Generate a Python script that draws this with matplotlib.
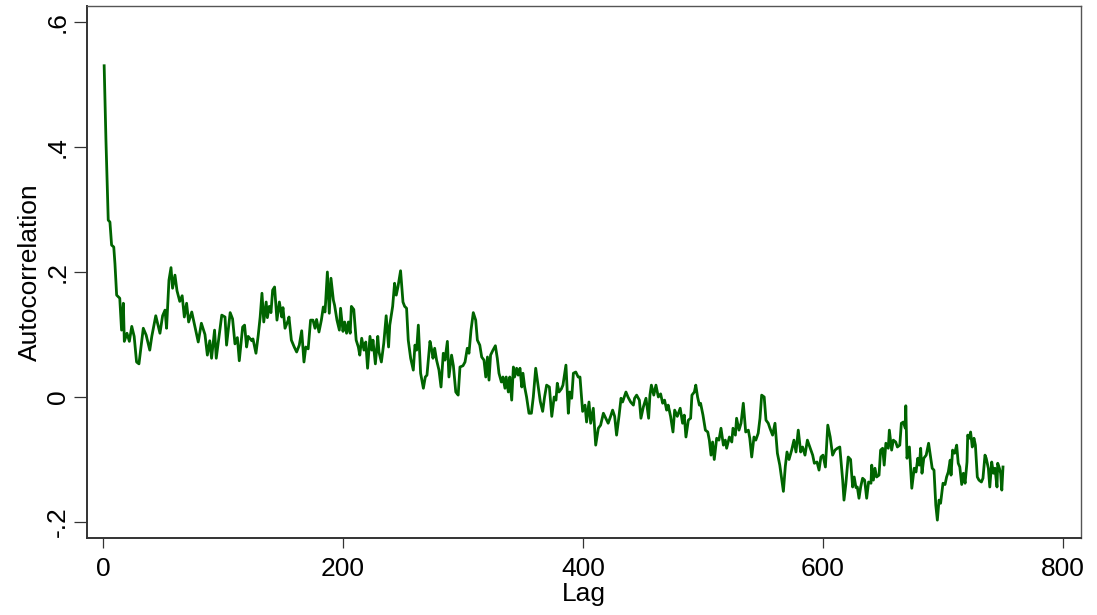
import matplotlib
matplotlib.use("Agg")
import matplotlib.pyplot as plt

lags = [1, 2.5, 4.4, 5.8, 7.2, 9, 10, 11.4, 14, 15.5, 17, 17.8, 20, 22, 24, 26, 28, 30,
        33.6, 36, 39, 40.7, 44, 47.5, 49.7, 51.7, 53, 55, 56.7, 58, 60, 61.7, 64, 66,
        67.8, 69.7, 71.4, 74, 76.7, 79.4, 82, 85, 87, 89, 90.5, 93, 94.4, 99, 101.7,
        103, 106, 108, 110, 112, 113.6, 116.4, 118, 119.7, 121, 124, 125, 127.5, 129.4,
        131, 132.5, 134, 136, 137, 138.6, 140, 141.4, 143, 145, 147, 149, 150, 151.7,
        154.4, 155, 157, 159.4, 161.4, 163.6, 165.6, 167.5, 169, 171, 173, 175, 176.7,
        178, 180, 182, 183.6, 185, 185.5, 187, 188.6, 190, 192, 193, 195, 197, 198, 200,
        201.4, 203, 204.5, 206, 207, 209, 211, 212.8, 214, 215.6, 217.5, 219, 220.5,
        222.5, 224, 225, 227, 229, 230, 232, 234, 236, 238, 239, 241.4, 243, 244.4,
        245.8, 248, 250, 251.4, 253, 254.4, 256.4, 258.6, 260, 261.4, 262.8, 264.7, 267,
        268.6, 270, 272.5, 274, 275, 276.4, 278, 280, 281.7, 283.6, 285, 287, 288.3,
        290.5, 292, 294, 296, 297.5, 300, 301.7, 303.6, 305, 306.7, 308.6, 310.6, 312,
        314, 315.6, 317.5, 319, 320.4, 321.7, 323, 325, 327, 328.6, 330, 332, 333.3, 335,
        336, 337.8, 339, 340.6, 342, 343, 344.7, 346, 347.5, 349, 350, 351.4, 353, 355,
        357, 358.6, 360.6, 362.8, 364.4, 366.4, 368, 369.7, 372, 374, 376, 377.5, 378.6,
        380, 382, 383.3, 385.8, 387.8, 389, 390.6, 392, 394, 396, 397.5, 399.7, 401.7,
        403, 405, 406.4, 408.6, 410.6, 412.8, 414.7, 417, 419, 421, 423, 424.7, 426.4,
        428, 430, 431.7, 433, 435.8, 437.5, 439.7, 442, 443, 444.7, 447, 448.3, 450.3,
        452.5, 454.7, 455.8, 457, 459, 460.8, 462.8, 464.7, 466.4, 468, 469.7, 471, 473,
        475, 476.4, 478.6, 481, 483, 484.4, 485.8, 487.8, 489.7, 490.8, 492.8, 494,
        495.5, 497, 498, 500, 502, 504, 505.3, 506.7, 508, 509.4, 511.4, 513.3, 515, 517,
        518.6, 519.7, 522, 524, 525, 527, 528, 530, 531.7, 533.6, 535.6, 537.8, 539,
        540.6, 542.5, 544, 546, 547.5, 548.9, 551, 552.5, 554.4, 555.8, 558, 560, 562,
        564, 567, 568.6, 570, 571.7, 573.9, 575.8, 577.5, 579.4, 581.4, 583, 585, 587,
        589, 591.4, 592.8, 595, 596.7, 598.3, 600, 602, 604, 606, 608, 610, 612, 614,
        616.4, 617.5, 619, 621, 623, 624.7, 626, 627.5, 628.6, 630, 631.4, 633, 634.7,
        636.4, 638, 640, 640.6, 642, 643.3, 644.7, 646.7, 648, 649.7, 651, 652.4, 654.4,
        655.3, 657.2, 658.6, 660.6, 662, 664, 665.3, 667, 668.6, 669, 670, 672, 674, 676,
        677.5, 679, 680.3, 681.4, 682.5, 684, 686, 688, 689.4, 691, 692.5, 694, 695.3,
        696.7, 698, 700, 701.7, 703, 704.4, 706, 706.7, 708, 709.7, 711.4, 712.7, 714,
        715.6, 717, 718.4, 720, 720.6, 722, 723, 724.4, 725.8, 727, 728.6, 730, 732,
        733.3, 735, 736, 737.8, 739, 740.6, 742, 743.3, 745, 745.6, 747, 748, 749, 750]

acf = [0.53, 0.41, 0.283, 0.28, 0.243, 0.24, 0.213, 0.163, 0.158, 0.107, 0.15, 0.089, 0.102,
       0.089, 0.113, 0.097, 0.056, 0.053, 0.11, 0.099, 0.075, 0.097, 0.13, 0.102, 0.13,
       0.139, 0.11, 0.187, 0.207, 0.174, 0.195, 0.17, 0.153, 0.162, 0.128, 0.15, 0.12,
       0.136, 0.112, 0.088, 0.118, 0.1, 0.067, 0.09, 0.062, 0.107, 0.062, 0.131, 0.128,
       0.083, 0.135, 0.125, 0.085, 0.095, 0.058, 0.112, 0.115, 0.08, 0.097, 0.09, 0.093,
       0.07, 0.099, 0.128, 0.166, 0.12, 0.152, 0.127, 0.145, 0.135, 0.171, 0.176, 0.123,
       0.152, 0.128, 0.143, 0.11, 0.123, 0.128, 0.091, 0.08, 0.072, 0.083, 0.106, 0.056,
       0.08, 0.077, 0.123, 0.123, 0.11, 0.124, 0.104, 0.123, 0.144, 0.136, 0.15, 0.2,
       0.134, 0.19, 0.155, 0.147, 0.123, 0.107, 0.142, 0.105, 0.12, 0.102, 0.12, 0.102,
       0.145, 0.14, 0.091, 0.08, 0.067, 0.094, 0.075, 0.088, 0.046, 0.097, 0.075, 0.091,
       0.053, 0.097, 0.072, 0.056, 0.086, 0.13, 0.08, 0.115, 0.145, 0.182, 0.163, 0.176,
       0.202, 0.152, 0.145, 0.142, 0.091, 0.062, 0.043, 0.083, 0.075, 0.115, 0.038, 0.014,
       0.032, 0.035, 0.089, 0.075, 0.062, 0.078, 0.059, 0.043, 0.016, 0.07, 0.059, 0.089,
       0.032, 0.067, 0.05, 0.008, 0.003, 0.048, 0.05, 0.056, 0.078, 0.07, 0.107, 0.135,
       0.123, 0.091, 0.083, 0.064, 0.059, 0.032, 0.064, 0.027, 0.067, 0.075, 0.082, 0.062,
       0.038, 0.024, 0.032, 0.014, 0.032, 0.008, 0.032, -0.005, 0.048, 0.032, 0.046, 0.035,
       0.046, 0.016, 0.038, 0.016, 0.0, -0.026, -0.026, 0.0, 0.046, 0.016, -0.007, -0.023,
       0.0, 0.019, 0.016, -0.031, 0.0, -0.005, 0.022, 0.008, 0.013, 0.019, 0.051, -0.026,
       0.008, -0.002, 0.038, 0.04, 0.032, 0.032, -0.023, -0.013, -0.04, -0.008, -0.042,
       -0.018, -0.077, -0.05, -0.045, -0.026, -0.034, -0.042, -0.031, -0.021, -0.031,
       -0.061, -0.031, -0.002, -0.008, 0.008, 0.0, -0.008, -0.013, -0.002, 0.003, -0.005,
       -0.034, -0.016, -0.002, -0.034, 0.003, 0.019, 0.003, 0.019, 0.0, 0.005, -0.01,
       -0.005, -0.021, -0.013, -0.031, -0.056, -0.021, -0.031, -0.018, -0.042, -0.029,
       -0.064, -0.037, -0.034, 0.003, 0.008, 0.019, 0.0, -0.013, -0.01, -0.029, -0.053,
       -0.056, -0.069, -0.093, -0.072, -0.1, -0.066, -0.069, -0.05, -0.077, -0.069, -0.082,
       -0.064, -0.072, -0.05, -0.061, -0.034, -0.053, -0.042, -0.01, -0.056, -0.053,
       -0.066, -0.096, -0.064, -0.069, -0.058, -0.034, 0.003, 0.0, -0.037, -0.042, -0.05,
       -0.061, -0.042, -0.09, -0.109, -0.151, -0.111, -0.088, -0.1, -0.085, -0.069, -0.088,
       -0.053, -0.088, -0.08, -0.093, -0.069, -0.08, -0.093, -0.106, -0.104, -0.117,
       -0.096, -0.093, -0.112, -0.045, -0.064, -0.093, -0.085, -0.082, -0.08, -0.133,
       -0.165, -0.14, -0.096, -0.1, -0.144, -0.128, -0.145, -0.144, -0.162, -0.144, -0.13,
       -0.133, -0.162, -0.136, -0.138, -0.109, -0.133, -0.114, -0.128, -0.125, -0.085,
       -0.082, -0.109, -0.074, -0.082, -0.053, -0.085, -0.069, -0.072, -0.08, -0.077,
       -0.042, -0.04, -0.05, -0.014, -0.098, -0.08, -0.146, -0.114, -0.12, -0.098, -0.109,
       -0.082, -0.122, -0.098, -0.093, -0.074, -0.093, -0.114, -0.117, -0.173, -0.197,
       -0.165, -0.17, -0.138, -0.14, -0.128, -0.12, -0.101, -0.125, -0.085, -0.09, -0.077,
       -0.106, -0.112, -0.14, -0.122, -0.138, -0.104, -0.061, -0.066, -0.056, -0.08,
       -0.066, -0.077, -0.128, -0.133, -0.136, -0.13, -0.093, -0.098, -0.114, -0.144,
       -0.104, -0.122, -0.114, -0.144, -0.106, -0.114, -0.122, -0.149, -0.112]

xticks = [0, 200, 400, 600, 800]
xticklabels = ["0", "200", "400", "600", "800"]
yticks = [-0.2, 0, 0.2, 0.4, 0.6]
yticklabels = ["-.2", "0", ".2", ".4", ".6"]

plt.rcParams['font.family'] = ['Liberation Sans', 'DejaVu Sans']

fig = plt.figure(figsize=(10.97, 6.15), dpi=100)
ax = fig.add_axes([87/1097, 1 - 538/615, (1081 - 87)/1097, (538 - 6)/615])

ax.plot(lags, acf, color='#006400', linewidth=2.0, solid_joinstyle='round')

ax.set_xlim(-13.3, 815)
ax.set_ylim(-0.2256, 0.6256)
ax.set_xticks(xticks)
ax.set_xticklabels(xticklabels, fontsize=19)
ax.set_yticks(yticks)
ax.set_yticklabels(yticklabels, fontsize=19, rotation=90, va='center')
ax.tick_params(axis='y', length=9.5, width=0.9, pad=3, color='#333333')
ax.tick_params(axis='x', length=7.2, width=0.9, pad=6.5, color='#333333')

for s in ['left', 'bottom']:
    ax.spines[s].set_linewidth(1.4)
    ax.spines[s].set_color('#333333')
for s in ['right', 'top']:
    ax.spines[s].set_linewidth(1.0)
    ax.spines[s].set_color('#555555')

ax.set_xlabel("Lag", fontsize=19, labelpad=1)
ax.set_ylabel("Autocorrelation", fontsize=19, labelpad=2.5)

fig.savefig("out.png", dpi=100, facecolor='white')
